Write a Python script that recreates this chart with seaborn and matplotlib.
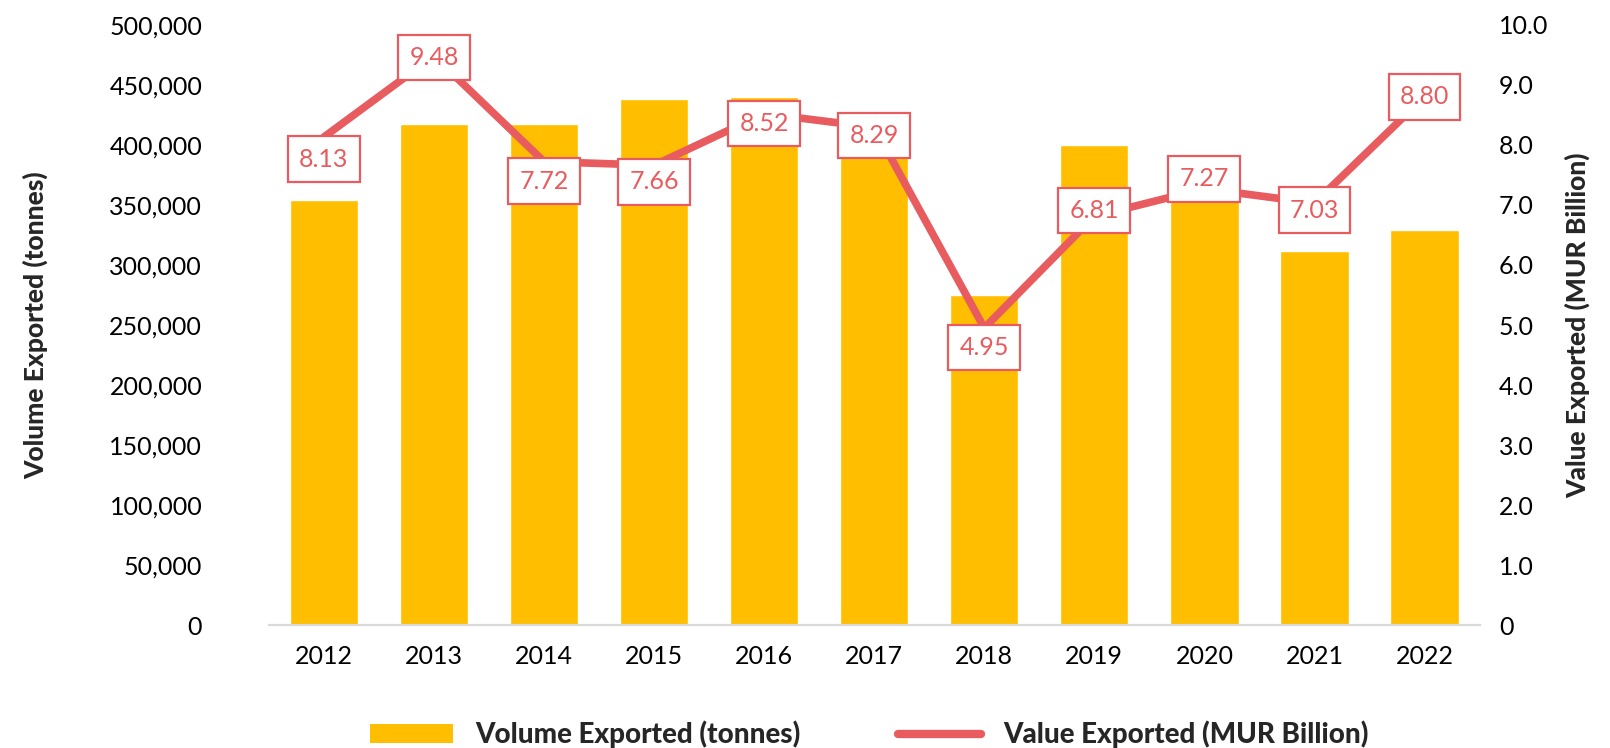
import matplotlib
matplotlib.use("Agg")
import matplotlib.pyplot as plt
import numpy as np
import pandas as pd
import seaborn as sns
from matplotlib.lines import Line2D
from matplotlib.patches import Patch
from matplotlib.ticker import FuncFormatter

sns.set_theme(style="white")
plt.rcParams["font.family"] = ["Lato", "DejaVu Sans"]

YEARS = ["2012", "2013", "2014", "2015", "2016", "2017", "2018", "2019", "2020", "2021", "2022"]
VOLUME_TONNES = [354000, 417000, 417000, 438000, 440000, 428000, 275000, 400000, 353000, 312000, 329000]
VALUE_MUR_BN = [8.13, 9.48, 7.72, 7.66, 8.52, 8.29, 4.95, 6.81, 7.27, 7.03, 8.80]

# vertical nudge of each value label (points, positive = down)
LABEL_DY = [16, 1, 14, 12, 7, 6, 14, -4, -7, 5, 0]

BAR_COLOR = "#FFBF00"
LINE_COLOR = "#E85B5E"

df = pd.DataFrame({"year": YEARS, "volume": VOLUME_TONNES, "value": VALUE_MUR_BN})
df["pos"] = np.arange(len(df))

fig = plt.figure(figsize=(16.1, 7.48), dpi=100)
ax = fig.add_axes([0.167, 0.164, 0.752, 0.803])
sns.barplot(data=df, x="year", y="volume", color=BAR_COLOR, saturation=1, width=0.62, ax=ax)

ax2 = ax.twinx()
sns.lineplot(data=df, x="pos", y="value", color=LINE_COLOR, linewidth=5.5, ax=ax2)

for pos, val, dy in zip(df["pos"], df["value"], LABEL_DY):
    ax2.annotate(
        f"{val:.2f}", (pos, val), xytext=(0, -dy), textcoords="offset points",
        ha="center", va="center", fontsize=18, color=LINE_COLOR,
        bbox=dict(boxstyle="square,pad=0.45", fc="white", ec=LINE_COLOR, lw=1.6),
    )

ax.set_xlim(-0.5, len(YEARS) - 0.5)
ax.set_ylim(0, 500000)
ax.set_yticks(np.arange(0, 500001, 50000))
ax.yaxis.set_major_formatter(FuncFormatter(lambda v, _: f"{v:,.0f}"))
ax2.set_ylim(0, 10)
ax2.set_yticks(np.arange(0, 10.1, 1))
ax2.yaxis.set_major_formatter(FuncFormatter(lambda v, _: "0" if v == 0 else f"{v:.1f}"))

ax.set_xlabel("")
ax.set_ylabel("Volume Exported (tonnes)", fontsize=19, fontweight="black", labelpad=44)
ax2.set_ylabel("Value Exported (MUR Billion)", fontsize=19, fontweight="black", labelpad=12)
ax2.set_xlabel("")

for a in (ax, ax2):
    for side in ("top", "left", "right"):
        a.spines[side].set_visible(False)
    a.spines["bottom"].set_color("#D9D9D9")
    a.spines["bottom"].set_linewidth(1.5)
    a.tick_params(axis="both", length=0, labelsize=18, colors="black")
ax.tick_params(axis="y", pad=48)
ax.tick_params(axis="x", pad=14)
ax2.tick_params(axis="y", pad=14)

handles = [
    Patch(facecolor=BAR_COLOR, edgecolor="none"),
    Line2D([0], [0], color=LINE_COLOR, linewidth=6, solid_capstyle="round"),
]
fig.legend(
    handles, ["Volume Exported (tonnes)", "Value Exported (MUR Billion)"],
    loc="center", bbox_to_anchor=(0.54, 0.018), ncol=2, frameon=False,
    prop={"size": 20, "weight": "black"}, handlelength=3.0, columnspacing=3.5,
)

fig.savefig("out.png", dpi=100)
